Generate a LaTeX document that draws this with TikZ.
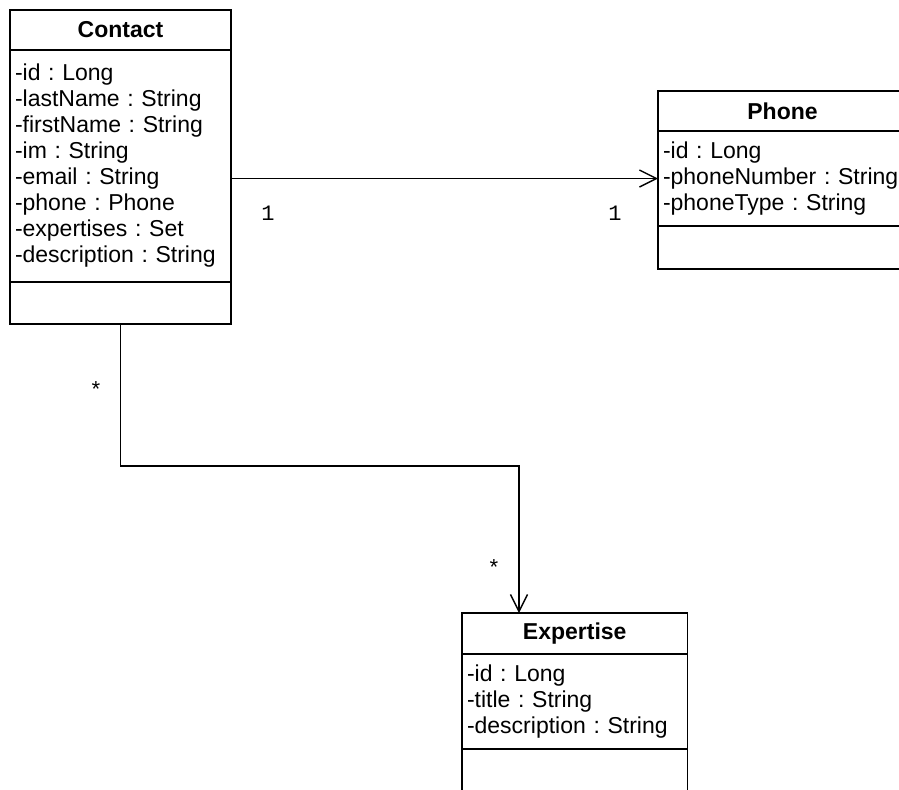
\documentclass[tikz,border=0pt]{standalone}
\usepackage{fontspec}
\setmainfont{Liberation Sans}
\setmonofont{Liberation Mono}
\frenchspacing
\usetikzlibrary{positioning,arrows.meta}

\begin{document}
\begin{tikzpicture}[x=0.5pt, y=-0.5pt,
  classhead/.style={draw, line width=0.7pt, inner sep=0pt, outer sep=0pt, minimum height=20pt,
                    font=\bfseries\fontsize{11.5}{13}\selectfont},
  classattr/.style={draw, line width=0.7pt, inner xsep=2.5pt, inner ysep=0pt, outer sep=0pt,
                    align=left, font=\fontsize{11.5}{13}\selectfont},
  classops/.style={draw, line width=0.7pt, inner sep=0pt, outer sep=0pt, minimum height=21pt},
  assoc/.style={line width=0.7pt, -{Straight Barb[length=8.5pt, width=8.5pt]}},
  mult/.style={font=\ttfamily\fontsize{11}{13}\selectfont, inner sep=0pt}
]
  \useasboundingbox (0,0) rectangle (899,789);
  \clip (0,0) rectangle (899,789);

  % Contact
  \node[classhead, minimum width=110.5pt, anchor=north west] (contact) at (10,10) {Contact};
  \node[classattr, text width=105.5pt, minimum height=116pt, below=0pt of contact] (contactattr) {
    -id : Long\\
    -lastName : String\\
    -firstName : String\\
    -im : String\\
    -email : String\\
    -phone : Phone\\
    -expertises : Set\\
    -description : String
  };
  \node[classops, minimum width=110.5pt, below=0pt of contactattr] (contactops) {};

  % Phone (runs off the right edge)
  \node[classhead, minimum width=124.5pt, anchor=north west] (phone) at (658,91) {Phone};
  \node[classattr, text width=123pt, minimum height=47.5pt, anchor=north west] (phoneattr) at (phone.south west) {
    -id : Long\\
    -phoneNumber : String\\
    -phoneType : String
  };
  \node[classops, minimum width=124.5pt, minimum height=21.5pt, anchor=north west] (phoneops) at (phoneattr.south west) {};

  % Expertise
  \node[classhead, minimum width=112.75pt, minimum height=20.5pt, anchor=north west] (expertise) at (462,613) {Expertise};
  \node[classattr, text width=107.75pt, minimum height=47.5pt, below=0pt of expertise] (expertiseattr) {
    -id : Long\\
    -title : String\\
    -description : String
  };
  \node[classops, minimum width=112.75pt, minimum height=21.5pt, below=0pt of expertiseattr] (expertiseops) {};

  % associations
  \draw[assoc] (contactattr.east |- phoneattr.west) -- (phoneattr.west);
  \coordinate (elbow) at (519,466);
  \draw[assoc] (contactops.south) |- (elbow) -- (elbow |- expertise.north);

  \node[mult] (m1) at (268,213) {1};
  \node[mult] (m2) at (615,213) {1};
  \node[mult] (m3) at (96,390) {*};
  \node[mult] (m4) at (494,568) {*};
\end{tikzpicture}
\end{document}
